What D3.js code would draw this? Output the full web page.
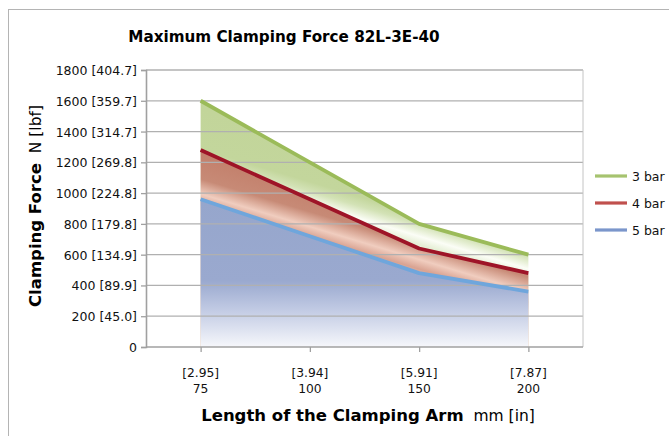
<!DOCTYPE html>
<html><head><meta charset="utf-8">
<script src="https://cdn.jsdelivr.net/npm/d3@7"></script>
<style>
html,body{margin:0;padding:0;background:#fff;}
svg{display:block;font-family:"DejaVu Sans",sans-serif;}
</style></head>
<body>
<script>
const categoriesMM = ["75", "100", "150", "200"];
const categoriesIN = ["[2.95]", "[3.94]", "[5.91]", "[7.87]"];
const seriesNames = ["3 bar", "4 bar", "5 bar"];
const bar3 = [1600, 1200, 800, 600];
const bar4 = [1280, 960, 640, 480];
const bar5 = [960, 720, 480, 360];
const yTicks = [0, 200, 400, 600, 800, 1000, 1200, 1400, 1600, 1800];
const yTickLbf = ["", "[45.0]", "[89.9]", "[134.9]", "[179.8]", "[224.8]", "[269.8]", "[314.7]", "[359.7]", "[404.7]"];

const W = 669, H = 436;
const svg = d3.select("body").append("svg").attr("width", W).attr("height", H);
const defs = svg.append("defs");

svg.append("rect").attr("x", 8.5).attr("y", 9.5).attr("width", 700).attr("height", 500)
  .attr("fill", "#fff").attr("stroke", "#b4b4b4").attr("stroke-width", 1);

const x = d3.scalePoint().domain(categoriesMM).range([146, 583]).padding(0.5);
const y = d3.scaleLinear().domain([0, 1800]).range([347, 70]);

function grad(id, attrs, stops) {
  const g = defs.append("linearGradient").attr("id", id).attr("gradientUnits", "userSpaceOnUse");
  Object.entries(attrs).forEach(([k, v]) => g.attr(k, v));
  stops.forEach(s => g.append("stop").attr("offset", s[0]).attr("stop-color", s[1]));
}
const tilt = {x1: 310, y1: 100, x2: 235, y2: 350};
grad("gGreen", tilt, [[0, "#c1d498"], [0.30, "#c3d69c"], [0.335, "#d3e2b6"], [0.38, "#fbfdf6"], [0.41, "#e6efd6"]]);
grad("gRed", tilt, [[0.30, "#c27e6a"], [0.41, "#c78a76"], [0.465, "#f0cdbf"], [0.50, "#d9a392"], [0.53, "#e8bdae"]]);
grad("gBlue", {x1: 0, y1: 200, x2: 0, y2: 347}, [[0, "#96a6cc"], [0.55, "#9aa9cf"], [0.75, "#c2cbe4"], [1, "#f6f7fb"]]);

const series = [
  {name: seriesNames[0], vals: bar3, fill: "url(#gGreen)", line: "#9bbb59", leg: "#a6c36f"},
  {name: seriesNames[1], vals: bar4, fill: "url(#gRed)", line: "#9e1427", leg: "#c0504d"},
  {name: seriesNames[2], vals: bar5, fill: "url(#gBlue)", line: "#6fa6dc", leg: "#7b96cb"}
];

const area = d3.area().x((d, i) => x(categoriesMM[i])).y0(y(0)).y1(d => y(d));
const line = d3.line().x((d, i) => x(categoriesMM[i])).y(d => y(d));

series.forEach(s => {
  svg.append("path").datum(s.vals).attr("d", area).attr("fill", s.fill);
});

svg.append("g").selectAll("line").data(yTicks.filter(t => t > 0)).join("line")
  .attr("x1", 146).attr("x2", 583).attr("y1", d => y(d)).attr("y2", d => y(d))
  .attr("stroke", "#b0b0b0").attr("stroke-width", 1.3);
svg.append("line").attr("x1", 583).attr("x2", 583).attr("y1", y(1800)).attr("y2", y(0))
  .attr("stroke", "#c4c4c4").attr("stroke-width", 1);

series.forEach(s => {
  svg.append("path").datum(s.vals).attr("d", line).attr("fill", "none")
    .attr("stroke", s.line).attr("stroke-width", 3.8).attr("stroke-linejoin", "round");
});

// y axis
const yAxis = svg.append("g").attr("transform", "translate(146,0)")
  .call(d3.axisLeft(y).tickValues(yTicks).tickSize(5).tickPadding(4)
    .tickFormat((d, i) => d + (yTickLbf[i] ? " " + yTickLbf[i] : "")));
yAxis.attr("font-size", null).attr("font-family", null);
yAxis.select(".domain").attr("stroke", "#a0a0a0").attr("stroke-width", 1.6);
yAxis.selectAll(".tick line").attr("stroke", "#a0a0a0").attr("stroke-width", 1.3);
yAxis.selectAll(".tick text").style("font-size", "12.5px").attr("fill", "#111").attr("dy", "0.36em");

// x axis
const xAxis = svg.append("g").attr("transform", `translate(0,${y(0)})`)
  .call(d3.axisBottom(x).tickSize(5).tickFormat(""));
xAxis.select(".domain").attr("stroke", "#a0a0a0").attr("stroke-width", 1.6).attr("d", "M146,0H583");
xAxis.selectAll(".tick line").attr("stroke", "#a0a0a0").attr("stroke-width", 1.3);
xAxis.selectAll(".tick text").remove();

const xlab = svg.append("g");
categoriesMM.forEach((c, i) => {
  const t = xlab.append("text").attr("text-anchor", "middle").style("font-size", "12.3px").attr("fill", "#111");
  t.append("tspan").attr("x", x(c)).attr("y", 377).text(categoriesIN[i]);
  t.append("tspan").attr("x", x(c)).attr("y", 392.5).text(c);
});

// titles
svg.append("text").attr("x", 284).attr("y", 42).attr("text-anchor", "middle")
  .style("font-size", "15.2px").attr("font-weight", "bold").attr("fill", "#000")
  .text("Maximum Clamping Force 82L-3E-40");

const xt = svg.append("text").attr("x", 368).attr("y", 421).attr("text-anchor", "middle")
  .style("font-size", "16.5px").attr("fill", "#000");
xt.append("tspan").attr("font-weight", "bold").text("Length of the Clamping Arm");
xt.append("tspan").style("font-size", "15.5px").text("\u00a0\u00a0mm [in]");

const yt = svg.append("text").attr("transform", "translate(41,206) rotate(-90)").attr("text-anchor", "middle")
  .style("font-size", "16.5px").attr("fill", "#000");
yt.append("tspan").attr("font-weight", "bold").text("Clamping Force");
yt.append("tspan").style("font-size", "15.5px").text("\u00a0\u00a0N [lbf]");

// legend
const leg = svg.append("g");
series.forEach((s, i) => {
  const ly = 176 + i * 27;
  leg.append("line").attr("x1", 595).attr("x2", 627).attr("y1", ly).attr("y2", ly)
    .attr("stroke", s.leg).attr("stroke-width", 3.2);
  leg.append("text").attr("x", 632).attr("y", ly).attr("dy", "0.36em").style("font-size", "12.5px")
    .attr("fill", "#111").text(s.name);
});
</script>
</body></html>
